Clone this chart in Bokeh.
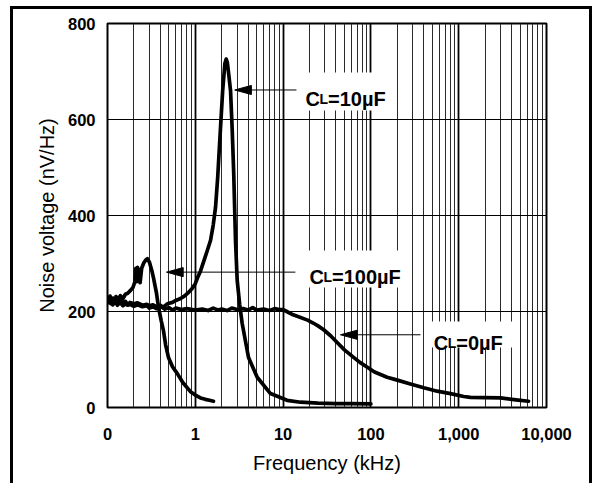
from bokeh.plotting import figure
from bokeh.models import FixedTicker, Range1d, InlineStyleSheet
from bokeh.core.properties import value
from bokeh.embed import file_html
from bokeh.resources import INLINE

# ---------------- data ----------------
f_0uF = [0.1, 0.105, 0.11, 0.115, 0.12, 0.13, 0.14, 0.15, 0.16, 0.17, 0.18, 0.2, 0.22, 0.25,
         0.28, 0.3, 0.33, 0.36, 0.4, 0.45, 0.5, 0.55, 0.6, 0.7, 0.8, 1.0, 1.2, 1.4, 1.6, 1.8,
         2.0, 2.3, 2.6, 3.0, 3.5, 4.0, 4.5, 5, 6, 7, 8, 9, 10, 11, 13, 15, 19, 22, 25, 29,
         35, 41, 50, 63, 75, 91, 110, 153, 200, 282, 400, 569, 807, 1143, 1361, 2000, 2993,
         4500, 6237]
v_0uF = [225, 218, 222, 214, 220, 215, 218, 212, 216, 213, 215, 211, 214, 210,
         212, 207, 210, 206, 211, 205, 208, 203, 207, 204, 206, 203, 205, 202, 207, 203,
         205, 202, 207, 204, 206, 203, 208, 203, 205, 202, 206, 204, 204, 200, 193, 189, 182, 176, 170, 162,
         149, 136, 120, 105, 94, 84, 74, 63, 57, 49, 41, 34, 29, 23, 21, 20.5, 20,
         16, 13]

f_10uF = [0.1, 0.105, 0.11, 0.12, 0.13, 0.14, 0.15, 0.16, 0.17, 0.18, 0.2, 0.22, 0.25, 0.28,
          0.3, 0.33, 0.36, 0.4, 0.43, 0.48, 0.55, 0.6, 0.68, 0.75, 0.84, 0.92, 1.0, 1.07, 1.15,
          1.25, 1.37, 1.49, 1.6, 1.7, 1.8, 1.9, 2.05, 2.17, 2.25, 2.32, 2.4, 2.52, 2.63, 2.74,
          2.87, 3.0, 3.2, 3.42, 4.04, 5.07, 7.18, 11.1, 15.8, 25, 40, 60, 100]
v_10uF = [222, 229, 216, 224, 213, 226, 218, 221, 214, 219, 216, 218, 213, 215,
          212, 214, 210, 213, 209, 216, 219, 223, 227, 232, 240, 248, 258, 272, 285,
          305, 327, 348, 380, 417, 480, 556, 660, 716, 726, 718, 695, 660, 580, 487,
          348, 265, 215, 175, 104, 63, 29, 15, 11, 9, 8, 8, 7.5]

f_100uF = [0.1, 0.103, 0.107, 0.11, 0.115, 0.12, 0.125, 0.13, 0.14, 0.15, 0.16, 0.17, 0.183,
           0.195, 0.205, 0.21, 0.215, 0.22, 0.225, 0.235, 0.245, 0.26, 0.275, 0.285, 0.3,
           0.32, 0.334, 0.36, 0.381, 0.41, 0.434, 0.46, 0.495, 0.55, 0.627, 0.72, 0.881, 1.0,
           1.146, 1.3, 1.45, 1.61]
v_100uF = [230, 222, 232, 218, 228, 220, 231, 224, 233, 227, 236, 238, 244,
           250, 262, 290, 262, 292, 285, 260, 290, 302, 308, 310, 303,
           285, 270, 240, 209, 180, 160, 130, 104, 85, 70, 52, 33, 26,
           20, 17, 15, 13]

x_ticks = [0.1, 1, 10, 100, 1000, 10000]
x_tick_labels = ["0", "1", "10", "100", "1,000", "10,000"]
y_ticks = [0, 200, 400, 600, 800]

label_main = ["C", "C", "C"]
label_sub = ["L", "L", "L"]
label_rest = ["=10\u00b5F", "=100\u00b5F", "=0\u00b5F"]
label_x = [18.0, 20.0, 520.0]
label_y = [642, 272, 135]
box_left = [14.6, 14.9, 465]
box_right = [190, 282, 4436]
box_top = [698, 327, 179]
box_bottom = [619, 250, 125]
arrow_tip_x = [2.81, 0.47, 45]
arrow_end_x = [14.2, 13.8, 367]
arrow_y = [661.5, 282, 151.5]

FONT = "Liberation Sans"

p = figure(width=597, height=483, x_axis_type="log",
           x_range=Range1d(0.1, 10000), y_range=Range1d(0, 800),
           output_backend="svg", toolbar_location=None,
           min_border_left=107, min_border_right=51, min_border_top=23, min_border_bottom=76)

p.outline_line_color = "black"
p.outline_line_width = 2
p.background_fill_color = "white"
p.border_fill_color = "white"

minor = [d * k for d in [0.1, 1, 10, 100, 1000] for k in range(2, 10)]
p.xaxis.ticker = FixedTicker(ticks=x_ticks, minor_ticks=minor)
p.yaxis.ticker = FixedTicker(ticks=y_ticks)
p.xaxis.major_label_overrides = {t: s for t, s in zip(x_ticks, x_tick_labels)}

for ax in (p.xaxis, p.yaxis):
    ax.axis_line_color = None
    ax.major_tick_in = 0
    ax.major_tick_out = 0
    ax.minor_tick_in = 0
    ax.minor_tick_out = 0
    ax.major_label_text_font = FONT
    ax.major_label_text_font_style = "bold"
    ax.major_label_text_font_size = "16.5px"
    ax.major_label_text_color = "black"
    ax.axis_label_text_font = FONT
    ax.axis_label_text_font_style = "normal"
    ax.axis_label_text_font_size = "20px"
    ax.axis_label_text_color = "black"

p.xaxis.axis_label = "Frequency (kHz)"
p.yaxis.axis_label = "Noise voltage (nV/Hz)"
p.xaxis.major_label_standoff = 20
p.yaxis.major_label_standoff = 12
p.xaxis.axis_label_standoff = 9
p.yaxis.axis_label_standoff = 7

p.xgrid.grid_line_color = "black"
p.xgrid.grid_line_width = 1.8
p.xgrid.minor_grid_line_color = "#2a2a2a"
p.xgrid.minor_grid_line_width = 1
p.ygrid.grid_line_color = "black"
p.ygrid.grid_line_width = 1

# label backgrounds
p.quad(left=box_left, right=box_right, top=box_top, bottom=box_bottom,
       fill_color="white", line_color=None)

# curves
for fx, vy in ((f_0uF, v_0uF), (f_10uF, v_10uF), (f_100uF, v_100uF)):
    p.line(fx, vy, line_color="black", line_width=3.7, line_join="round", line_cap="round")

# arrows: shaft + filled head (head length ~0.19 decade, half height ~9 nV)
head_len = 10 ** 0.19
head_base = [t * head_len for t in arrow_tip_x]
p.segment(x0=head_base, y0=arrow_y, x1=arrow_end_x, y1=arrow_y, line_color="black", line_width=1)
p.patches(xs=[[t, b, b] for t, b in zip(arrow_tip_x, head_base)],
          ys=[[y, y + 9.5, y - 9.5] for y in arrow_y],
          fill_color="black", line_color="black", line_width=1)

# labels C_L=...
p.text(x=label_x, y=label_y, text=label_main, text_font=value(FONT), text_font_style="bold",
       text_font_size="20px", text_baseline="alphabetic", text_color="black")
p.text(x=label_x, y=label_y, text=label_sub, x_offset=14, text_font=value(FONT), text_font_style="bold",
       text_font_size="14px", text_baseline="alphabetic", text_color="black")
p.text(x=label_x, y=label_y, text=label_rest, x_offset=22.5, text_font=value(FONT), text_font_style="bold",
       text_font_size="20px", text_baseline="alphabetic", text_color="black")

# outer frame of the picture (left, top and right edges)
p.stylesheets = [InlineStyleSheet(css="""
:host { position: relative; }
:host::after {
  content: "";
  position: absolute;
  left: 10px; top: 6px; width: 582px; height: 490px;
  border: 3px solid black; border-bottom: none;
  box-sizing: border-box;
  pointer-events: none;
}
""")]

open("out.html", "w").write(file_html(p, INLINE))
